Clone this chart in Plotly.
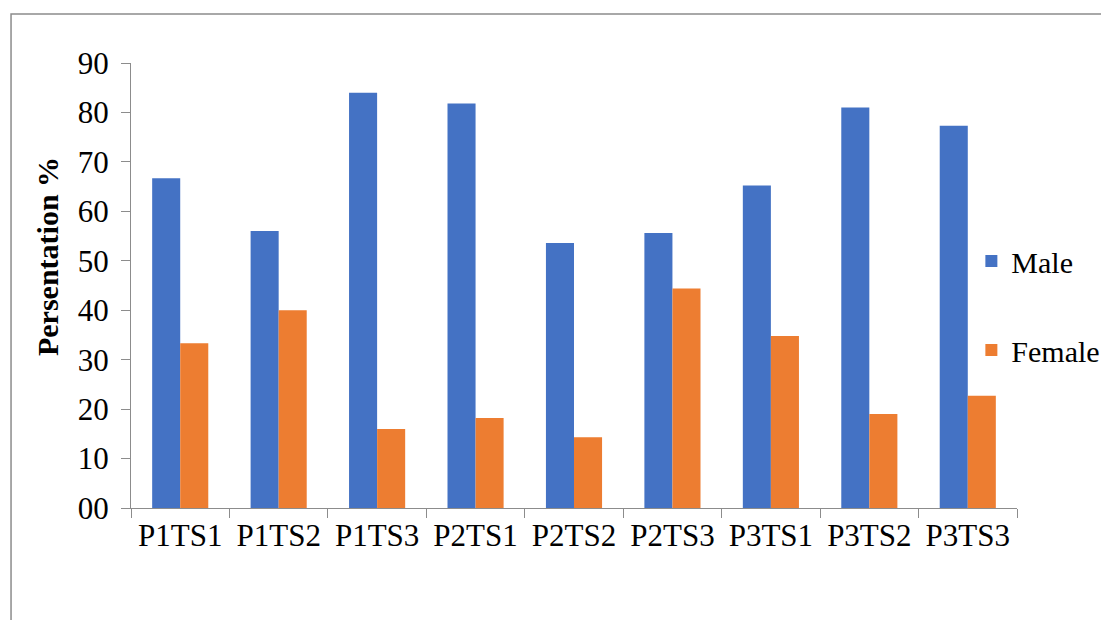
import plotly.graph_objects as go

categories = ["P1TS1", "P1TS2", "P1TS3", "P2TS1", "P2TS2", "P2TS3", "P3TS1", "P3TS2", "P3TS3"]
male = [66.7, 56.0, 84.0, 81.8, 53.6, 55.6, 65.2, 81.0, 77.3]
female = [33.3, 40.0, 16.0, 18.2, 14.3, 44.4, 34.8, 19.0, 22.7]
y_tickvals = [0, 10, 20, 30, 40, 50, 60, 70, 80, 90]
y_ticktext = ["00", "10", "20", "30", "40", "50", "60", "70", "80", "90"]

FONT = "Liberation Serif"
AXIS = "#8c8c8c"
FS = 31

fig = go.Figure()
fig.add_trace(go.Bar(x=categories, y=male, name="Male", marker_color="#4472C4",
                     marker_line_width=0, legendgroup="m"))
fig.add_trace(go.Bar(x=categories, y=female, name="Female", marker_color="#ED7D31",
                     marker_line_width=0, legendgroup="f"))

fig.update_layout(
    width=1101, height=612,
    margin=dict(l=123, r=92, t=55, b=112, autoexpand=False),
    paper_bgcolor="white", plot_bgcolor="white",
    font=dict(family=FONT, size=FS, color="black"),
    barmode="group", bargap=0.43, bargroupgap=0,
    showlegend=True,
    legend=dict(x=0.9485, y=0.455, xanchor="left", yanchor="middle",
                traceorder="grouped", tracegroupgap=47,
                font=dict(family=FONT, size=30, color="black"),
                bgcolor="rgba(0,0,0,0)"),
    xaxis=dict(showline=True, linecolor=AXIS, linewidth=1, ticks="outside",
               tickson="boundaries", ticklen=9, tickcolor=AXIS,
               showgrid=False, tickfont=dict(family=FONT, size=FS)),
    yaxis=dict(range=[0, 90], tickvals=y_tickvals, ticktext=y_ticktext,
               showline=True, linecolor=AXIS, linewidth=1, ticks="outside",
               ticklen=9, tickcolor=AXIS, showgrid=False, zeroline=False,
               ticklabelstandoff=6, tickfont=dict(family=FONT, size=FS)),
    shapes=[dict(type="rect", xref="paper", yref="paper",
                 x0=-0.1354, x1=1.2, y0=-0.6, y1=1.110,
                 line=dict(color=AXIS, width=1.5), fillcolor="rgba(0,0,0,0)", layer="below")],
    annotations=[dict(text="<b>Persentation %</b>", xref="paper", yref="paper",
                      x=-0.0948, y=0.564, textangle=-90, showarrow=False,
                      font=dict(family=FONT, size=30, color="black"),
                      xanchor="center", yanchor="middle")],
)

fig.write_html("out.html")
